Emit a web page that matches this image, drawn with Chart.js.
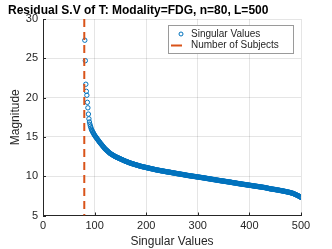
<!DOCTYPE html>
<html><head><meta charset="utf-8">
<script src="https://cdn.jsdelivr.net/npm/chart.js@4/dist/chart.umd.min.js"></script>
<style>html,body{margin:0;padding:0;background:#fff}#wrap{width:332px;height:249px;position:relative}</style>
</head><body><div id="wrap"><canvas id="c" width="332" height="249"></canvas></div>
<script>
const titleText = 'Residual S.V of T: Modality=FDG, n=80, L=500';
const xLabel = 'Singular Values';
const yLabel = 'Magnitude';
const seriesName = 'Singular Values';
const lineName = 'Number of Subjects';
const subjectCount = 80;
const firstIndex = 81;
const singularValues = [
27.3,24.7,21.7,20.8,20.3,19.4,18.7,17.9,17.3,16.9,16.6,16.35,16.15,15.95,15.8,15.68,15.56,15.44,15.32,15.2,
15.11,15.02,14.93,14.84,14.75,14.66,14.57,14.48,14.39,14.3,
14.22,14.14,14.06,13.98,13.9,13.82,13.74,13.66,13.58,13.5,
13.44,13.38,13.32,13.26,13.2,13.14,13.08,13.02,12.96,12.9,
12.86,12.82,12.78,12.74,12.7,12.66,12.62,12.58,12.54,12.5,
12.47,12.44,12.41,12.38,12.35,12.32,12.29,12.26,12.23,12.2,
12.17,12.14,12.11,12.08,12.05,12.02,11.99,11.96,11.93,11.9,
11.88,11.85,11.83,11.8,11.78,11.75,11.73,11.7,11.68,11.65,
11.63,11.61,11.59,11.57,11.55,11.53,11.51,11.49,11.47,11.45,
11.43,11.41,11.39,11.37,11.35,11.33,11.31,11.29,11.27,11.25,
11.24,11.22,11.21,11.19,11.18,11.16,11.15,11.13,11.12,11.1,
11.09,11.07,11.06,11.04,11.03,11.01,11.0,10.98,10.97,10.95,
10.94,10.92,10.91,10.89,10.88,10.86,10.85,10.83,10.82,10.8,
10.79,10.78,10.77,10.75,10.74,10.73,10.72,10.7,10.69,10.68,
10.67,10.66,10.65,10.63,10.62,10.61,10.6,10.58,10.57,10.56,
10.55,10.54,10.53,10.52,10.51,10.5,10.49,10.47,10.46,10.45,
10.44,10.43,10.42,10.4,10.39,10.38,10.37,10.35,10.34,10.33,
10.32,10.31,10.3,10.29,10.28,10.26,10.25,10.24,10.23,10.22,
10.21,10.2,10.19,10.17,10.16,10.15,10.14,10.12,10.11,10.1,
10.09,10.08,10.07,10.06,10.05,10.04,10.03,10.02,10.01,10.0,
9.99,9.98,9.97,9.96,9.95,9.94,9.93,9.92,9.91,9.9,
9.89,9.88,9.87,9.86,9.85,9.84,9.83,9.82,9.81,9.8,
9.79,9.78,9.77,9.76,9.75,9.73,9.72,9.71,9.7,9.69,
9.68,9.67,9.66,9.65,9.64,9.62,9.61,9.6,9.59,9.58,
9.57,9.56,9.55,9.54,9.53,9.51,9.5,9.49,9.48,9.47,
9.46,9.45,9.44,9.43,9.42,9.41,9.4,9.39,9.38,9.37,
9.36,9.35,9.34,9.33,9.32,9.31,9.3,9.29,9.28,9.27,
9.26,9.25,9.24,9.23,9.22,9.2,9.19,9.18,9.17,9.16,
9.15,9.14,9.13,9.12,9.11,9.09,9.08,9.07,9.06,9.05,
9.04,9.03,9.02,9.01,9.0,8.99,8.98,8.97,8.96,8.95,
8.94,8.93,8.92,8.91,8.9,8.89,8.88,8.87,8.86,8.85,
8.84,8.83,8.82,8.81,8.8,8.79,8.78,8.77,8.76,8.75,
8.74,8.73,8.72,8.71,8.7,8.69,8.68,8.67,8.66,8.65,
8.64,8.63,8.62,8.61,8.6,8.59,8.58,8.57,8.56,8.55,
8.54,8.52,8.51,8.49,8.48,8.46,8.45,8.43,8.42,8.4,
8.39,8.38,8.37,8.36,8.35,8.34,8.33,8.32,8.31,8.3,
8.29,8.28,8.26,8.25,8.24,8.23,8.22,8.2,8.19,8.18,
8.17,8.16,8.14,8.13,8.12,8.1,8.09,8.08,8.06,8.05,
8.04,8.02,8.01,7.99,7.98,7.96,7.95,7.93,7.92,7.9,
7.88,7.86,7.84,7.82,7.8,7.77,7.74,7.71,7.68,7.65,
7.62,7.59,7.56,7.53,7.5,7.46,7.42,7.38,7.34,7.3
];
const xTicks = [0, 100, 200, 300, 400, 500];
const yTicks = [5, 10, 15, 20, 25, 30];

const BLUE = '#0072BD', ORANGE = '#D95319', AXIS = '#262626';
const FONT = '"Liberation Sans", Arial, Helvetica, sans-serif';

const svPoints = singularValues.map((v, i) => ({x: firstIndex + i, y: v}));
const subjectLine = [{x: subjectCount, y: yTicks[yTicks.length-1]}, {x: subjectCount, y: yTicks[0]}];

const titlePlugin = {
  id: 'mTitle',
  afterDraw(chart) {
    const ctx = chart.ctx;
    ctx.save();
    ctx.font = 'bold 12px ' + FONT;
    ctx.fillStyle = '#000';
    ctx.textBaseline = 'alphabetic';
    ctx.textAlign = 'left';
    ctx.fillText(titleText, 8, 14);
    ctx.restore();
  }
};

const inTicks = {
  id: 'inTicks',
  beforeDatasetsDraw(chart) {
    const {ctx, chartArea: a, scales: {x, y}} = chart;
    ctx.save();
    ctx.strokeStyle = AXIS; ctx.lineWidth = 1;
    ctx.beginPath();
    xTicks.forEach(v => { const px = Math.round(x.getPixelForValue(v)) + 0.5; ctx.moveTo(px, a.bottom); ctx.lineTo(px, a.bottom - 3); });
    yTicks.forEach(v => { const py = Math.round(y.getPixelForValue(v)) + 0.5; ctx.moveTo(a.left, py); ctx.lineTo(a.left + 3, py); });
    ctx.stroke();
    ctx.restore();
  }
};

const legendPlugin = {
  id: 'mLegend',
  afterDraw(chart) {
    const ctx = chart.ctx;
    const bx = 168.5, by = 25.5, bw = 125, bh = 28;
    ctx.save();
    ctx.fillStyle = '#fff';
    ctx.fillRect(bx, by, bw, bh);
    ctx.strokeStyle = '#9a9a9a'; ctx.lineWidth = 1;
    ctx.strokeRect(bx, by, bw, bh);
    ctx.strokeStyle = BLUE; ctx.lineWidth = 1;
    ctx.beginPath(); ctx.arc(181, 34, 2, 0, Math.PI * 2); ctx.stroke();
    ctx.strokeStyle = ORANGE; ctx.lineWidth = 2;
    ctx.beginPath(); ctx.moveTo(171, 45.5); ctx.lineTo(182, 45.5); ctx.stroke();
    ctx.fillStyle = AXIS;
    ctx.font = '10px ' + FONT;
    ctx.textBaseline = 'middle';
    ctx.fillText(seriesName, 191, 34);
    ctx.fillText(lineName, 191, 45.5);
    ctx.restore();
  }
};

const gridColor = 'rgba(38,38,38,0.12)';
new Chart(document.getElementById('c'), {
  type: 'scatter',
  data: {
    datasets: [
      { label: seriesName, data: svPoints, showLine: false, pointStyle: 'circle', pointRadius: 2.2,
        pointBorderWidth: 1, borderColor: BLUE, backgroundColor: 'rgba(0,0,0,0)', order: 2 },
      { label: lineName, type: 'line', data: subjectLine, showLine: true, borderColor: ORANGE, borderWidth: 2,
        borderDash: [8, 5], pointRadius: 0, fill: false, order: 1 }
    ]
  },
  options: {
    responsive: false, animation: false, devicePixelRatio: 1,
    layout: { padding: { left: 0, right: 31, top: 19, bottom: 0 } },
    plugins: { legend: { display: false }, title: { display: false }, tooltip: { enabled: false } },
    scales: {
      x: {
        type: 'linear', min: 0, max: 500,
        afterBuildTicks: s => { s.ticks = xTicks.map(v => ({value: v})); },
        afterFit: s => { s.height = 33.5; },
        ticks: { color: AXIS, font: { size: 11, family: FONT }, padding: 4, maxRotation: 0 },
        grid: { color: gridColor, drawTicks: false },
        border: { color: AXIS, width: 1 },
        title: { display: true, text: xLabel, color: AXIS, font: { size: 12, family: FONT }, padding: { top: 0, bottom: 0 } }
      },
      y: {
        type: 'linear', min: 5, max: 30,
        afterBuildTicks: s => { s.ticks = yTicks.map(v => ({value: v})); },
        afterFit: s => { s.width = 43; },
        ticks: { color: AXIS, font: { size: 11, family: FONT }, padding: 5 },
        grid: { color: gridColor, drawTicks: false },
        border: { color: AXIS, width: 1 },
        title: { display: true, text: yLabel, color: AXIS, font: { size: 12, family: FONT }, padding: { top: 8, bottom: 0 } }
      }
    }
  },
  plugins: [inTicks, titlePlugin, legendPlugin]
});
</script></body></html>
